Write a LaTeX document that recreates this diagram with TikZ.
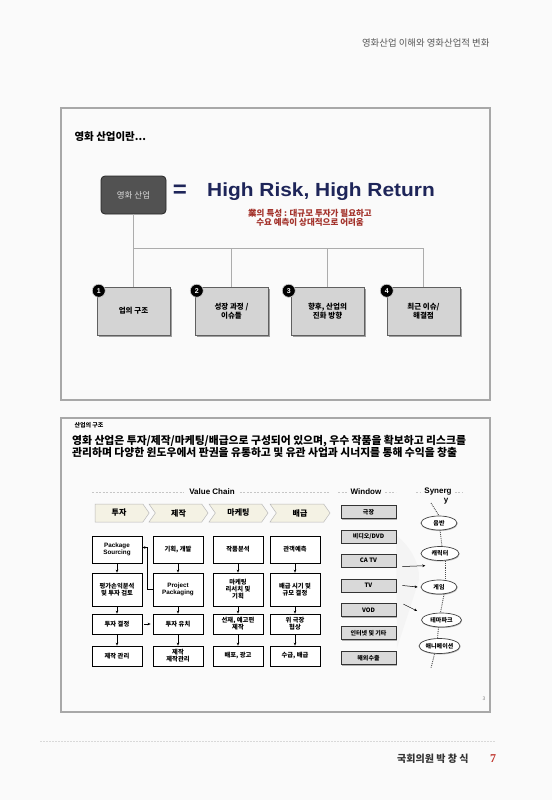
\documentclass[tikz,border=0pt]{standalone}
\usepackage{fontspec}
\setmainfont{Noto Sans CJK KR}
\newfontfamily\lat{Liberation Sans}
\newfontfamily\numfont{Liberation Serif}
\usetikzlibrary{shapes.geometric,shapes.symbols,shadows,calc,arrows.meta}
\definecolor{pagebg}{HTML}{FAFAFA}
\definecolor{navy}{HTML}{1E2559}
\definecolor{darkred}{HTML}{A3322B}
\definecolor{framegray}{HTML}{A8A8A8}
\definecolor{boxgray}{HTML}{D4D4D4}
\definecolor{chevfill}{HTML}{F4F2E4}
\definecolor{pagered}{HTML}{C0342C}
\begin{document}
\begin{tikzpicture}[x=1pt,y=-1pt,
  frame/.style={draw=framegray, line width=1.3pt},
  darkbox/.style={rounded corners=4pt, draw=black!85, line width=0.8pt, fill=black!68, text=gray!30, minimum width=65pt, minimum height=38pt, font=\fontsize{8.5}{8.5}\selectfont},
  topbox/.style={draw=gray!75!black, line width=0.5pt, fill=boxgray, minimum width=73pt, minimum height=48pt, inner sep=1pt, align=center, font=\fontsize{7.5}{9}\selectfont\bfseries, drop shadow={shadow xshift=1.8pt, shadow yshift=-1.8pt, fill=gray!75, opacity=1}},
  numdot/.style={circle, fill=black, draw=gray!40, line width=0.6pt, text=white, font=\lat\fontsize{7}{7}\selectfont\bfseries, inner sep=0pt, minimum size=13pt},
  bus/.style={draw=gray!65, line width=0.5pt},
  chev/.style={signal, signal to=east, signal pointer angle=110, draw=gray!55, line width=0.5pt, fill=chevfill, minimum height=18pt, inner sep=1pt, font=\fontsize{8}{8}\selectfont\bfseries},
  vcbox/.style={draw=black, line width=0.8pt, fill=white, minimum width=50pt, align=center, inner sep=1pt, font=\fontsize{6.3}{7}\selectfont\bfseries, drop shadow={shadow xshift=1pt, shadow yshift=-1pt, fill=gray!60, opacity=1}},
  winbox/.style={draw=black!80, line width=0.8pt, fill=gray!30, minimum width=55pt, minimum height=13pt, inner sep=0.5pt, font=\fontsize{6}{6}\selectfont\bfseries, drop shadow={shadow xshift=1pt, shadow yshift=-1pt, fill=gray!60, opacity=1}},
  syn/.style={ellipse, draw=black!75, line width=0.7pt, fill=white, minimum width=36pt, minimum height=14pt, inner sep=0pt, font=\fontsize{6}{6}\selectfont\bfseries, drop shadow={shadow xshift=0.5pt, shadow yshift=-1pt, fill=gray!55, opacity=1}},
  arr/.style={-{Stealth[length=3pt,width=2.6pt]}, line width=0.5pt, black},
  dotline/.style={densely dotted, line width=0.9pt, black!70},
  guide/.style={gray!45, dash pattern=on 2pt off 1.5pt, line width=0.5pt},
  ttl/.style={font=\lat\fontsize{8}{8}\selectfont\bfseries, inner sep=1pt}
]
\fill[pagebg] (0,0) rectangle (552,800);
\useasboundingbox (0,0) rectangle (552,800);

% header
\node[anchor=east, text=black!65, font=\fontsize{9.4}{9.4}\selectfont] (hdr) at (493,43) {영화산업 이해와 영화산업적 변화};

% frames
\draw[frame] (61,108) rectangle (490,400);
\draw[frame] (61,418) rectangle (490,712);

% ---------- top slide ----------
\node[anchor=west, font=\fontsize{10.5}{10.5}\selectfont\bfseries] (t1) at (71,137) {영화 산업이란...};
\node[darkbox] (film) at (133.5,195) {영화 산업};
\node[text=navy, font=\lat\fontsize{24}{24}\selectfont\bfseries] (eq) at (180,191) {=};
\node[anchor=west, text=navy, font=\lat\fontsize{19}{19}\selectfont\bfseries, inner sep=0pt] (hr) at (207,192) {\scalebox{1.1}[1]{High Risk, High Return}};
\node[text=darkred, align=center, font=\fontsize{8.5}{8.5}\selectfont\bfseries] (note) at (310,218) {業의 특성 : 대규모 투자가 필요하고\\수요 예측이 상대적으로 어려움};

\node[topbox] (b1) at (133.5,311) {업의 구조};
\node[topbox] (b2) at (231.5,311) {성장 과정 /\\이슈들};
\node[topbox] (b3) at (327.5,311) {향후, 산업의\\진화 방향};
\node[topbox] (b4) at (423.5,311) {최근 이슈/\\해결점};

\coordinate (busL) at (133.5,248);
\coordinate (busR) at (423.5,248);
\draw[bus] (film.south) -- (busL) -- (busR);
\foreach \b in {b1,b2,b3,b4} \draw[bus] (\b.north) -- (\b.north |- busL);

\node[numdot] (n1) at ($(b1.north west)+(2,4)$) {1};
\node[numdot] (n2) at ($(b2.north west)+(2,4)$) {2};
\node[numdot] (n3) at ($(b3.north west)+(-2,4)$) {3};
\node[numdot] (n4) at ($(b4.north west)+(0,4)$) {4};

% ---------- bottom slide ----------
\node[anchor=west, font=\fontsize{6}{6}\selectfont\bfseries] (s2) at (71,425) {산업의 구조};
\node[anchor=north west, align=left, inner sep=0pt, font=\fontsize{10.8}{9.8}\selectfont\bfseries] (desc) at (72,435) {영화 산업은 투자/제작/마케팅/배급으로 구성되어 있으며, 우수 작품을 확보하고 리스크를\\관리하며 다양한 윈도우에서 판권을 유통하고 및 유관 사업과 시너지를 통해 수익을 창출};

% value chain title
\node[ttl] (vct) at (212,492) {Value Chain};
\coordinate (vcL) at (92,492);
\coordinate (vcR) at (330,492);
\draw[guide] (vcL) -- ([xshift=-4pt]vct.west);
\draw[guide] ([xshift=4pt]vct.east) -- (vcR);

% chevrons
\node[chev, minimum width=54pt] (ch1) at (119,513) {투자};
\node[chev, signal from=west, minimum width=59pt] (ch2) at (178.5,513) {제작};
\node[chev, signal from=west, minimum width=59pt] (ch3) at (238.5,513) {마케팅};
\node[chev, signal from=west, minimum width=60pt] (ch4) at (300,513) {배급};

% value chain boxes
\node[vcbox, minimum height=27pt] (a1) at (117,549.5) {\lat Package\\\lat Sourcing};
\node[vcbox, minimum height=27pt] (a2) at (178,549.5) {기획, 개발};
\node[vcbox, minimum height=27pt] (a3) at (238,549.5) {작품분석};
\node[vcbox, minimum height=27pt] (a4) at (295,549.5) {관객예측};

\node[vcbox, minimum height=33pt] (c1) at (117,589.5) {평가손익분석\\및 투자 검토};
\node[vcbox, minimum height=33pt] (c2) at (178,589.5) {\lat Project\\\lat Packaging};
\node[vcbox, minimum height=33pt] (c3) at (238,589.5) {마케팅\\리서치 및\\기획};
\node[vcbox, minimum height=33pt] (c4) at (295,589.5) {배급 시기 및\\규모 결정};

\node[vcbox, minimum height=20pt] (d1) at (117,624) {투자 결정};
\node[vcbox, minimum height=20pt] (d2) at (178,624) {투자 유치};
\node[vcbox, minimum height=20pt] (d3) at (238,624) {선재, 예고편\\제작};
\node[vcbox, minimum height=20pt] (d4) at (295,624) {위 극장\\협상};

\node[vcbox, minimum height=20pt] (e1) at (117,656) {제작 관리};
\node[vcbox, minimum height=20pt] (e2) at (178,656) {제작\\제작관리};
\node[vcbox, minimum height=20pt] (e3) at (238,656) {배포, 광고};
\node[vcbox, minimum height=20pt] (e4) at (295,656) {수급, 배급};

\foreach \i in {1,2,3,4} {
  \draw[arr] (a\i) -- (c\i);
  \draw[arr] (c\i) -- (d\i);
  \draw[arr] (d\i) -- (e\i);
}
\draw[arr] ([xshift=2pt]d1.east) -- ([xshift=-2pt]d2.west);
\draw[arr] (c2.west) -- ++(-5,0) |- ([yshift=2pt]a1.east);

% window
\node[ttl] (wt) at (366,492) {Window};
\coordinate (wL) at (338,492);
\coordinate (wR) at (396,492);
\draw[guide] (wL) -- ([xshift=-3pt]wt.west);
\draw[guide] ([xshift=3pt]wt.east) -- (wR);

\fill[gray!9] (396,535) .. controls (412,548) and (420,565) .. (419,580) -- (397,648) -- cycle;

\node[winbox] (w1) at (368.5,512) {극장};
\node[winbox] (w2) at (368.5,536.5) {비디오/DVD};
\node[winbox] (w3) at (368.5,560.5) {CA TV};
\node[winbox] (w4) at (368.5,585.5) {TV};
\node[winbox] (w5) at (368.5,610) {VOD};
\node[winbox] (w6) at (368.5,633) {인터넷 및 기타};
\node[winbox] (w7) at (368.5,658) {해외수출};

% synergy
\node[ttl] (syt) at (438,492) {Synerg};
\node[ttl] (syy) at (446,501) {y};
\coordinate (sL) at (416,492);
\coordinate (sR) at (463,492);
\draw[guide] (sL) -- ([xshift=-2pt]syt.west);
\draw[guide] ([xshift=2pt]syt.east) -- (sR);

\node[syn] (y1) at (439,523) {음반};
\node[syn, minimum width=38pt] (y2) at (440,553.5) {캐릭터};
\node[syn] (y3) at (439,587) {게임};
\node[syn, minimum width=40pt] (y4) at (441.5,620) {테마파크};
\node[syn, minimum width=41pt, minimum height=15pt] (y5) at (439.5,646) {애니메이션};

\coordinate (syTop) at (431,503);
\coordinate (syBot) at (431,668);
\draw[dotline] (syTop) -- (y1.north);
\draw[dotline] ([xshift=1pt]y1.south) -- ([xshift=2pt]y2.north);
\draw[dotline] ([xshift=5pt]y2.south) -- ([xshift=6pt]y3.north);
\draw[dotline] ([xshift=5pt]y3.south) -- ([xshift=-1pt]y4.north);
\draw[dotline] ([xshift=-3pt]y4.south) -- ([xshift=-2pt]y5.north);
\draw[dotline] ([xshift=-5pt]y5.south) -- (syBot);

\draw[arr] ($(w3.east)+(6,6)$) -- ($(y2.south west)+(-1,7)$);
\draw[arr] ([xshift=6pt]w4.east) -- ([xshift=-3pt]y3.west);
\draw[arr] ($(w5.north east)+(7,1)$) -- ($(y4.west)+(-4,-9)$);

\node[font=\fontsize{5}{5}\selectfont, text=gray] (pg3) at (484,699) {3};

% footer
\coordinate (fL) at (40,741);
\coordinate (fR) at (495,741);
\draw[gray!30, dash pattern=on 1.5pt off 1.5pt, line width=0.5pt] (fL) -- (fR);
\node[anchor=east, font=\fontsize{10}{10}\selectfont\bfseries, text=black!80] (ft) at (472,759) {국회의원 박 창 식};
\node[text=pagered, font=\numfont\fontsize{12}{12}\selectfont\bfseries] (pn) at (493,759) {7};
\end{tikzpicture}
\end{document}
